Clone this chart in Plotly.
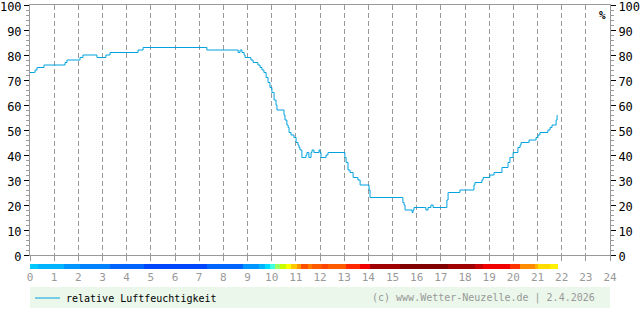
import plotly.graph_objects as go

# ---- data ----
hours = [0.00, 0.19, 0.21, 0.29, 0.54, 0.58, 1.37, 1.45, 1.53, 1.99, 2.07, 2.19, 2.69, 2.77, 3.06, 3.14,
         3.31, 4.43, 4.47, 4.68, 7.28, 7.32, 8.57, 8.61, 8.69, 8.77, 8.86, 8.90, 9.10, 9.14, 9.23, 9.39,
         9.43, 9.52, 9.60, 9.68, 9.77, 9.85, 9.93, 10.01, 10.10, 10.18, 10.22, 10.47, 10.51, 10.55, 10.63,
         10.68, 10.72, 10.80, 10.92, 11.01, 11.09, 11.13, 11.17, 11.25, 11.34, 11.42, 11.46, 11.54, 11.63,
         11.67, 11.75, 11.92, 11.96, 12.00, 12.04, 12.17, 12.25, 12.33, 12.99, 13.03, 13.08, 13.16, 13.24,
         13.37, 13.53, 13.57, 13.66, 13.99, 14.03, 14.07, 15.39, 15.43, 15.48, 15.52, 15.77, 15.81, 15.85,
         15.89, 16.34, 16.38, 16.47, 16.59, 16.68, 17.21, 17.25, 17.30, 17.75, 17.79, 18.33, 18.37, 18.41,
         18.66, 18.70, 18.75, 18.99, 19.03, 19.20, 19.49, 19.53, 19.74, 19.78, 19.86, 19.99, 20.07, 20.19,
         20.28, 20.32, 20.61, 20.65, 20.90, 20.94, 21.02, 21.10, 21.35, 21.43, 21.52, 21.60, 21.72, 21.77,
         21.81]
humidity = [73, 73, 74, 75, 75, 76, 76, 77, 78, 78, 79, 80, 80, 79, 79, 80,
            81, 81, 82, 83, 83, 82, 82, 81, 82, 81, 80, 79, 79, 78, 77, 77,
            76, 75, 74, 73, 71, 69, 67, 65, 62, 60, 58, 58, 56, 54, 52,
            51, 49, 48, 47, 45, 44, 43, 42, 39, 39, 40, 41, 39, 41,
            42, 41, 41, 42, 41, 39, 39, 40, 41, 41, 39, 37, 34, 33,
            31, 31, 30, 28, 28, 26, 23, 23, 21, 20, 18, 18, 17, 18,
            19, 19, 18, 19, 20, 19, 19, 22, 25, 25, 26, 26, 28, 29,
            29, 30, 31, 31, 32, 33, 33, 35, 35, 37, 39, 41, 41, 43,
            44, 45, 45, 46, 46, 47, 48, 49, 49, 50, 51, 52, 52, 54,
            56]

bar_starts = [0.00, 0.33, 1.41, 2.07, 3.31, 4.72, 7.31, 8.83, 9.48, 9.72, 9.93, 10.14, 10.34, 10.59,
              10.80, 11.05, 11.21, 11.50, 11.67, 12.08, 12.33, 13.08, 13.65, 14.07, 15.31, 17.30, 18.41,
              18.74, 19.86, 20.28, 20.90, 21.02, 21.52]
bar_colors = ['#00c8ff', '#00b4ff', '#0096ff', '#0082ff', '#0064ff', '#0046ff', '#0064ff', '#0096ff',
              '#00b4ff', '#00dcff', '#40ffe0', '#a0ff60', '#c8ff00', '#ffff00', '#ffc800', '#ff9600',
              '#ff5000', '#ff7800', '#ff5a00', '#ff4600', '#ff5a00', '#ff2800', '#f00000', '#a00000',
              '#800000', '#a00000', '#c80000', '#f00000', '#ff3200', '#ff8c00', '#ffb400', '#ffdc00',
              '#fff000']
bar_end = 21.85

hour_ticks = list(range(0, 25))
hour_labels = [str(h) for h in hour_ticks]
y_ticks = list(range(0, 101, 10))

series_name = "relative Luftfeuchtigkeit"
copyright_text = "(c) www.Wetter-Neuzelle.de | 2.4.2026"

# ---- figure ----
FONT = "DejaVu Sans Mono"
LINE_COLOR = "#00a2e0"
W, H = 640, 315
ML, MR, MT, MB = 30, 30, 5, 46
PH = H - MT - MB
PW = W - ML - MR


def py(pix):
    return (H - MB - pix) / PH


def px(pix):
    return (pix - ML) / PW


fig = go.Figure()
fig.add_trace(go.Scatter(x=hours, y=humidity, mode="lines", name=series_name,
                         line=dict(color=LINE_COLOR, width=1, shape="hv"),
                         xaxis="x", yaxis="y", showlegend=False, hoverinfo="skip"))
fig.add_trace(go.Scatter(x=[0], y=[0], mode="markers", marker=dict(opacity=0),
                         xaxis="x", yaxis="y3", showlegend=False, hoverinfo="skip"))

ends = bar_starts[1:] + [bar_end]
widths = [e - s for s, e in zip(bar_starts, ends)]
fig.add_trace(go.Bar(x=widths, base=bar_starts, y=[0.5] * len(widths), orientation="h",
                     width=1, marker=dict(color=bar_colors, line=dict(width=0)),
                     xaxis="x2", yaxis="y2", showlegend=False, hoverinfo="skip"))

yaxis_common = dict(
    range=[0, 100], tickvals=y_ticks, ticks="outside", ticklen=5, tickcolor="#000",
    showline=True, linecolor="#999", linewidth=1, showgrid=False, zeroline=False,
    tickfont=dict(family=FONT, size=12, color="#000"), ticklabeloverflow="allow",
    ticklabelshift=2,
    minor=dict(dtick=2, ticks="outside", ticklen=3, tickcolor="#999", showgrid=False),
    fixedrange=True, automargin=False,
)
main_bottom = py(255)

fig.update_layout(
    width=W, height=H, margin=dict(l=ML, r=MR, t=MT, b=MB, pad=0, autoexpand=False),
    paper_bgcolor="white", plot_bgcolor="white", bargap=0,
    font=dict(family=FONT, size=10, color="#000"),
    xaxis=dict(domain=[0, 1], anchor="y", range=[0, 24], tickvals=hour_ticks,
               showticklabels=False, showgrid=True, gridcolor="#999", gridwidth=1,
               griddash="5px,3px", showline=True, linecolor="#999", mirror=True,
               ticks="outside", ticklen=5, tickcolor="#999", zeroline=False,
               automargin=False),
    yaxis=dict(domain=[main_bottom, 1], anchor="x", side="left", **yaxis_common),
    yaxis3=dict(overlaying="y", anchor="x", side="right", **yaxis_common),
    xaxis2=dict(domain=[0, 1], anchor="y2", range=[0, 24], tickvals=hour_ticks,
                ticktext=hour_labels, showgrid=False, showline=False, ticks="",
                zeroline=False, tickfont=dict(family=FONT, size=11, color="#999"),
                ticklabeloverflow="allow", automargin=False),
    yaxis2=dict(domain=[0, py(264)], anchor="x2", range=[0, 1], visible=False,
                automargin=False),
    shapes=[
        dict(type="rect", xref="paper", yref="paper", x0=0, x1=1, y0=py(308), y1=py(287),
             fillcolor="#eaf7ea", line=dict(width=0), layer="below"),
        dict(type="line", xref="paper", yref="paper", x0=px(35), x1=px(60), y0=py(298), y1=py(298),
             line=dict(color=LINE_COLOR, width=1)),
    ],
    annotations=[
        dict(text=series_name, xref="paper", yref="paper", x=px(64), y=py(298),
             xanchor="left", yanchor="middle", showarrow=False,
             font=dict(family=FONT, size=10, color="#000")),
        dict(text=copyright_text, xref="paper", yref="paper", x=px(597), y=py(298),
             xanchor="right", yanchor="middle", showarrow=False,
             font=dict(family=FONT, size=10, color="#999")),
        dict(text="<b>%</b>", xref="paper", yref="paper", x=px(602), y=py(16),
             xanchor="center", yanchor="middle", showarrow=False,
             font=dict(family=FONT, size=11, color="#000")),
    ],
)

fig.write_html("out.html")
